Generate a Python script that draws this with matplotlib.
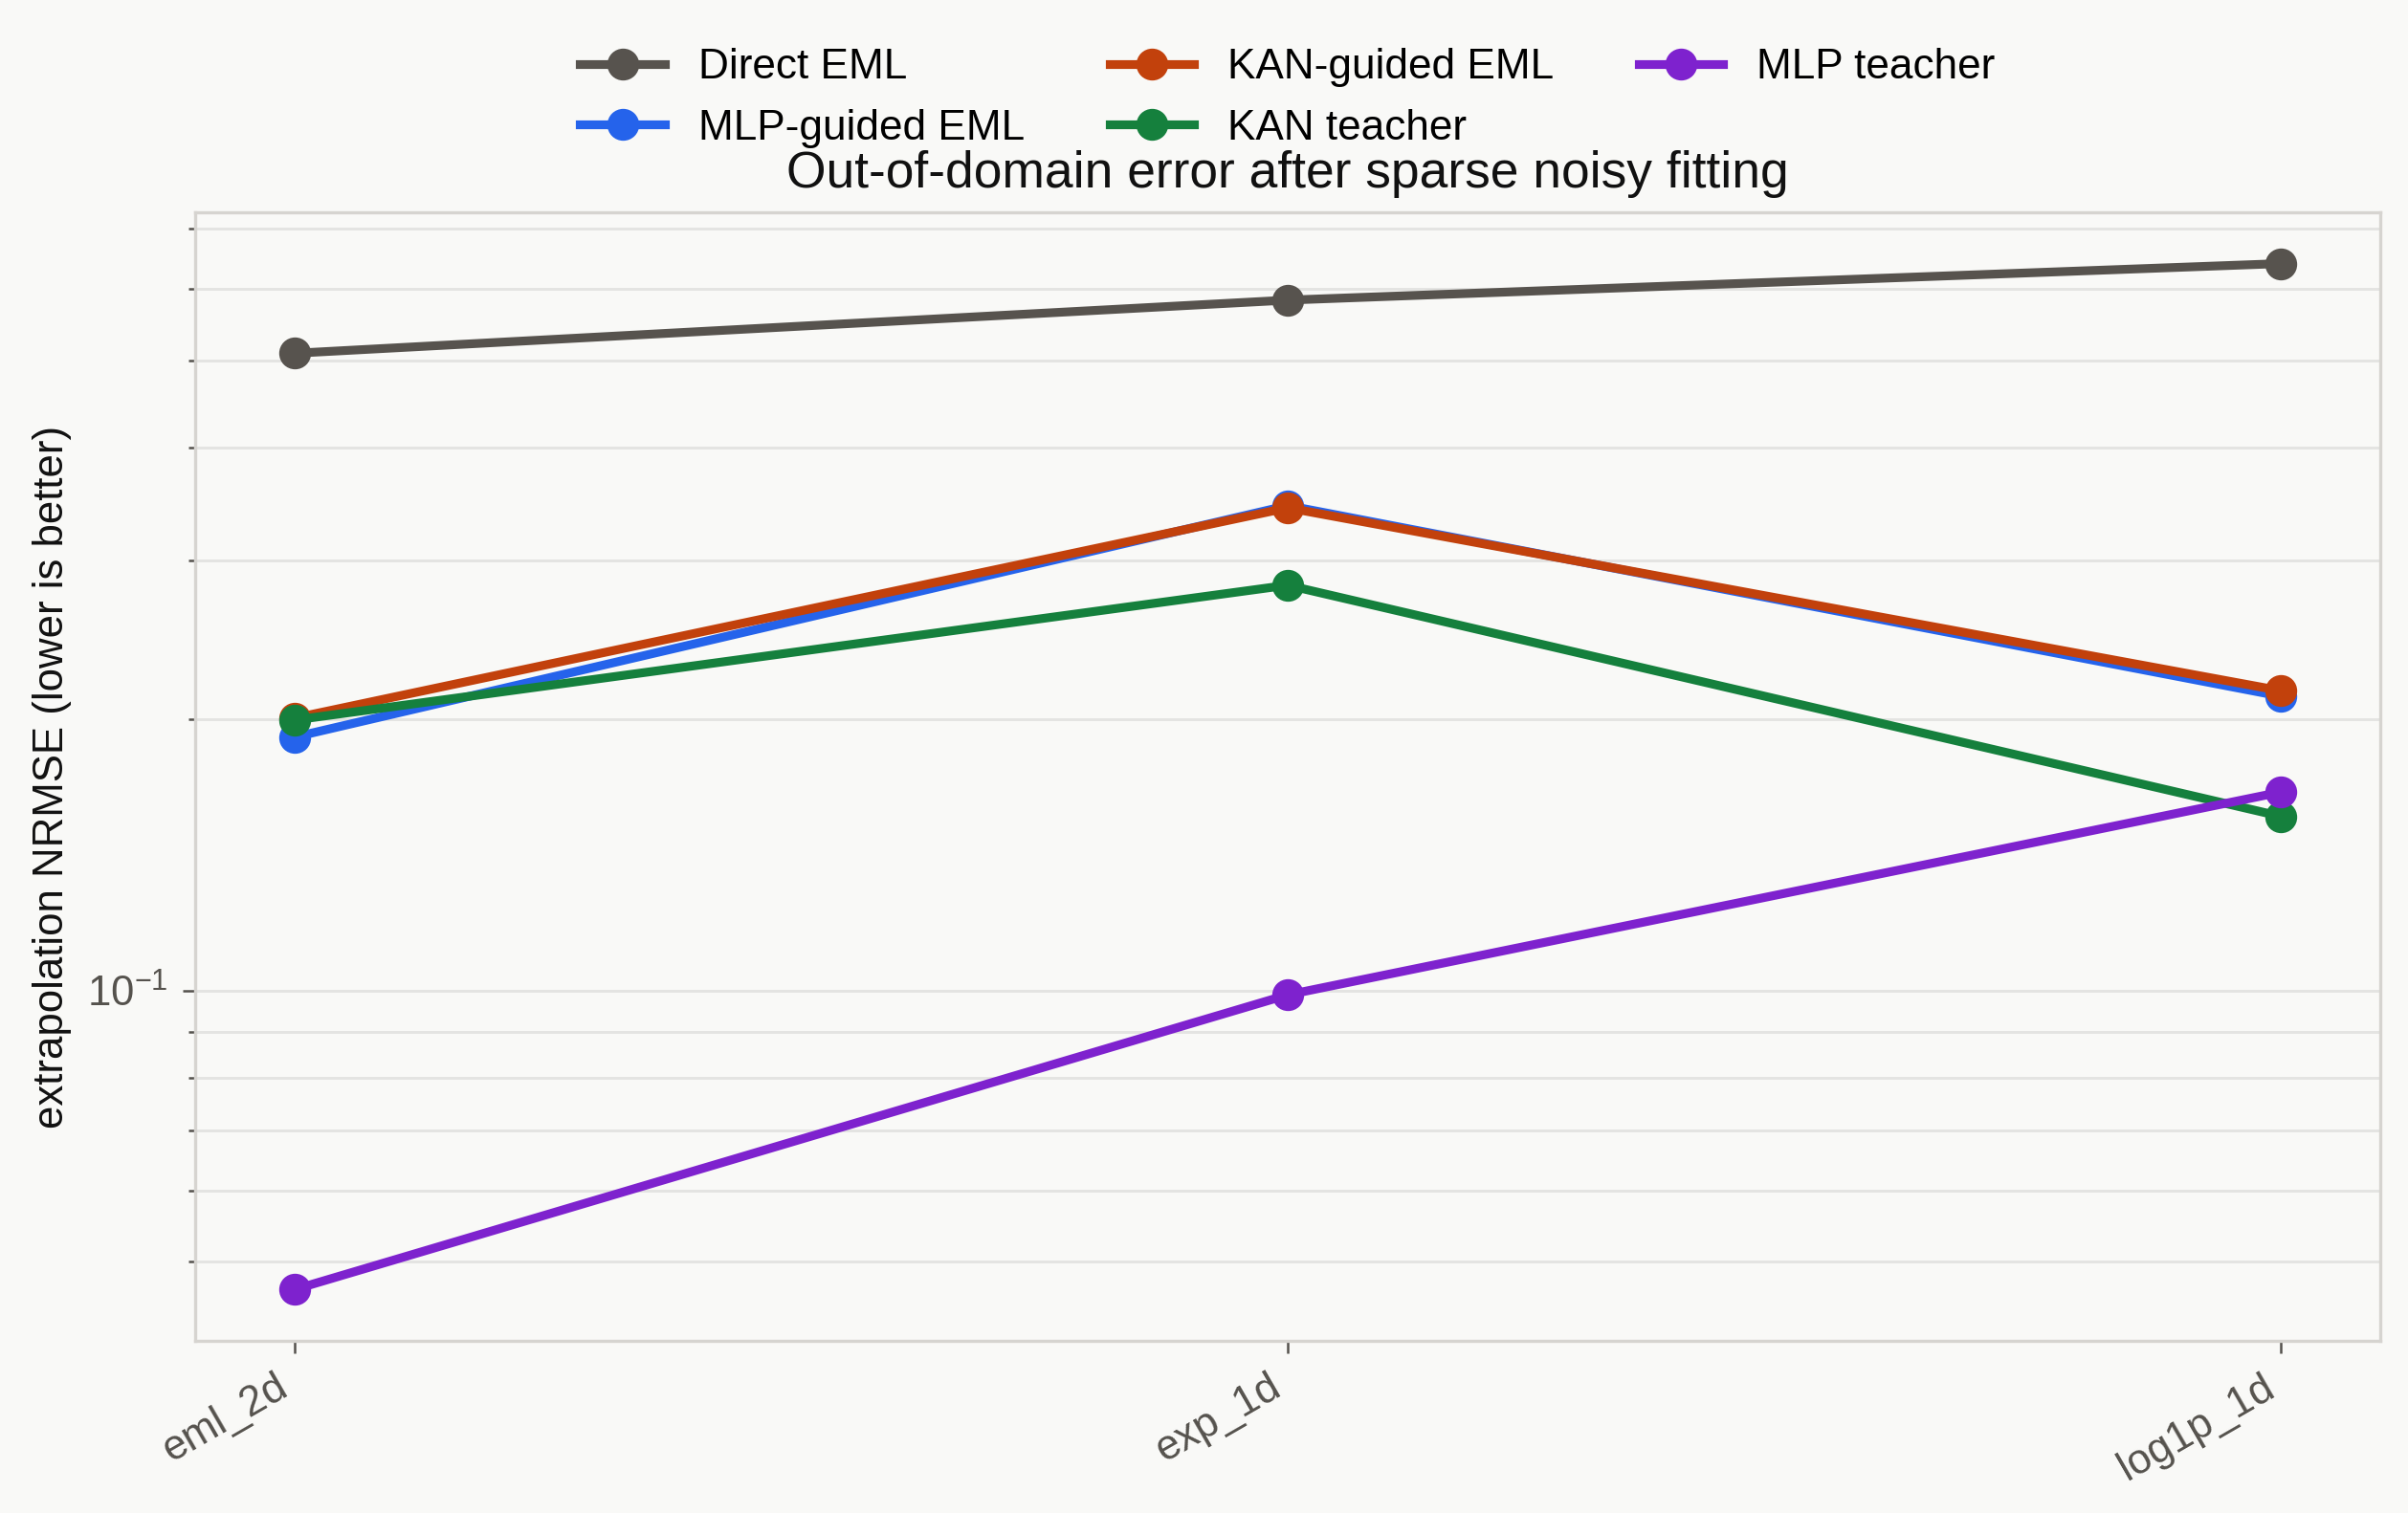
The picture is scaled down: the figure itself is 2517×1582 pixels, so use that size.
import matplotlib.pyplot as plt
from matplotlib.ticker import LogLocator, NullFormatter

plt.rcParams['font.family'] = ['Liberation Sans', 'DejaVu Sans']

tasks = ['eml_2d', 'exp_1d', 'log1p_1d']

direct_eml = [0.509, 0.583, 0.640]
mlp_guided_eml = [0.191, 0.345, 0.212]
kan_guided_eml = [0.2005, 0.343, 0.215]
kan_teacher = [0.1995, 0.2815, 0.156]
mlp_teacher = [0.0466, 0.0989, 0.166]

series = [
    ('Direct EML', direct_eml, '#57534e'),
    ('MLP-guided EML', mlp_guided_eml, '#2563eb'),
    ('KAN-guided EML', kan_guided_eml, '#c2410c'),
    ('KAN teacher', kan_teacher, '#15803d'),
    ('MLP teacher', mlp_teacher, '#7e22ce'),
]

BG = '#f9f9f7'
GRID = '#e4e4e2'
SPINE = '#d6d4d0'
TICK = '#55524d'

fig, ax = plt.subplots(figsize=(2517 / 300, 1582 / 300), dpi=300)
fig.patch.set_facecolor(BG)
ax.set_facecolor(BG)
fig.subplots_adjust(left=0.081, right=0.9885, top=0.8597, bottom=0.1138)

x = list(range(len(tasks)))
for label, values, color in series:
    ax.plot(x, values, color=color, linewidth=2.2, marker='o', markersize=7,
            label=label, zorder=3)

ax.set_yscale('log')
ax.yaxis.set_minor_locator(LogLocator(base=10, subs=[2, 3, 4, 5, 6, 7, 8, 9]))
ax.yaxis.set_minor_formatter(NullFormatter())
ax.grid(True, axis='y', which='both', color=GRID, linewidth=0.7, zorder=0)
ax.grid(False, axis='x')

ax.set_xticks(x)
ax.set_xticklabels(tasks, rotation=30, ha='right')
ax.tick_params(axis='both', which='major', direction='out', length=3.2, width=0.6,
               color=TICK, labelcolor=TICK, labelsize=10.5)
ax.tick_params(axis='y', which='minor', direction='out', length=1.7, width=0.6,
               color=TICK)

for sp in ax.spines.values():
    sp.set_color(SPINE)
    sp.set_linewidth(0.8)

ax.set_ylabel('extrapolation NRMSE (lower is better)', fontsize=10.5,
              color='#111111', labelpad=4)
ax.set_title('Out-of-domain error after sparse noisy fitting', fontsize=12.8,
             color='#111111', pad=6.3)

ax.legend(loc='upper center', bbox_to_anchor=(0.5, 1.179), ncol=3, frameon=False,
          fontsize=10.6)

fig.savefig('out.png', dpi=300, facecolor=BG)
